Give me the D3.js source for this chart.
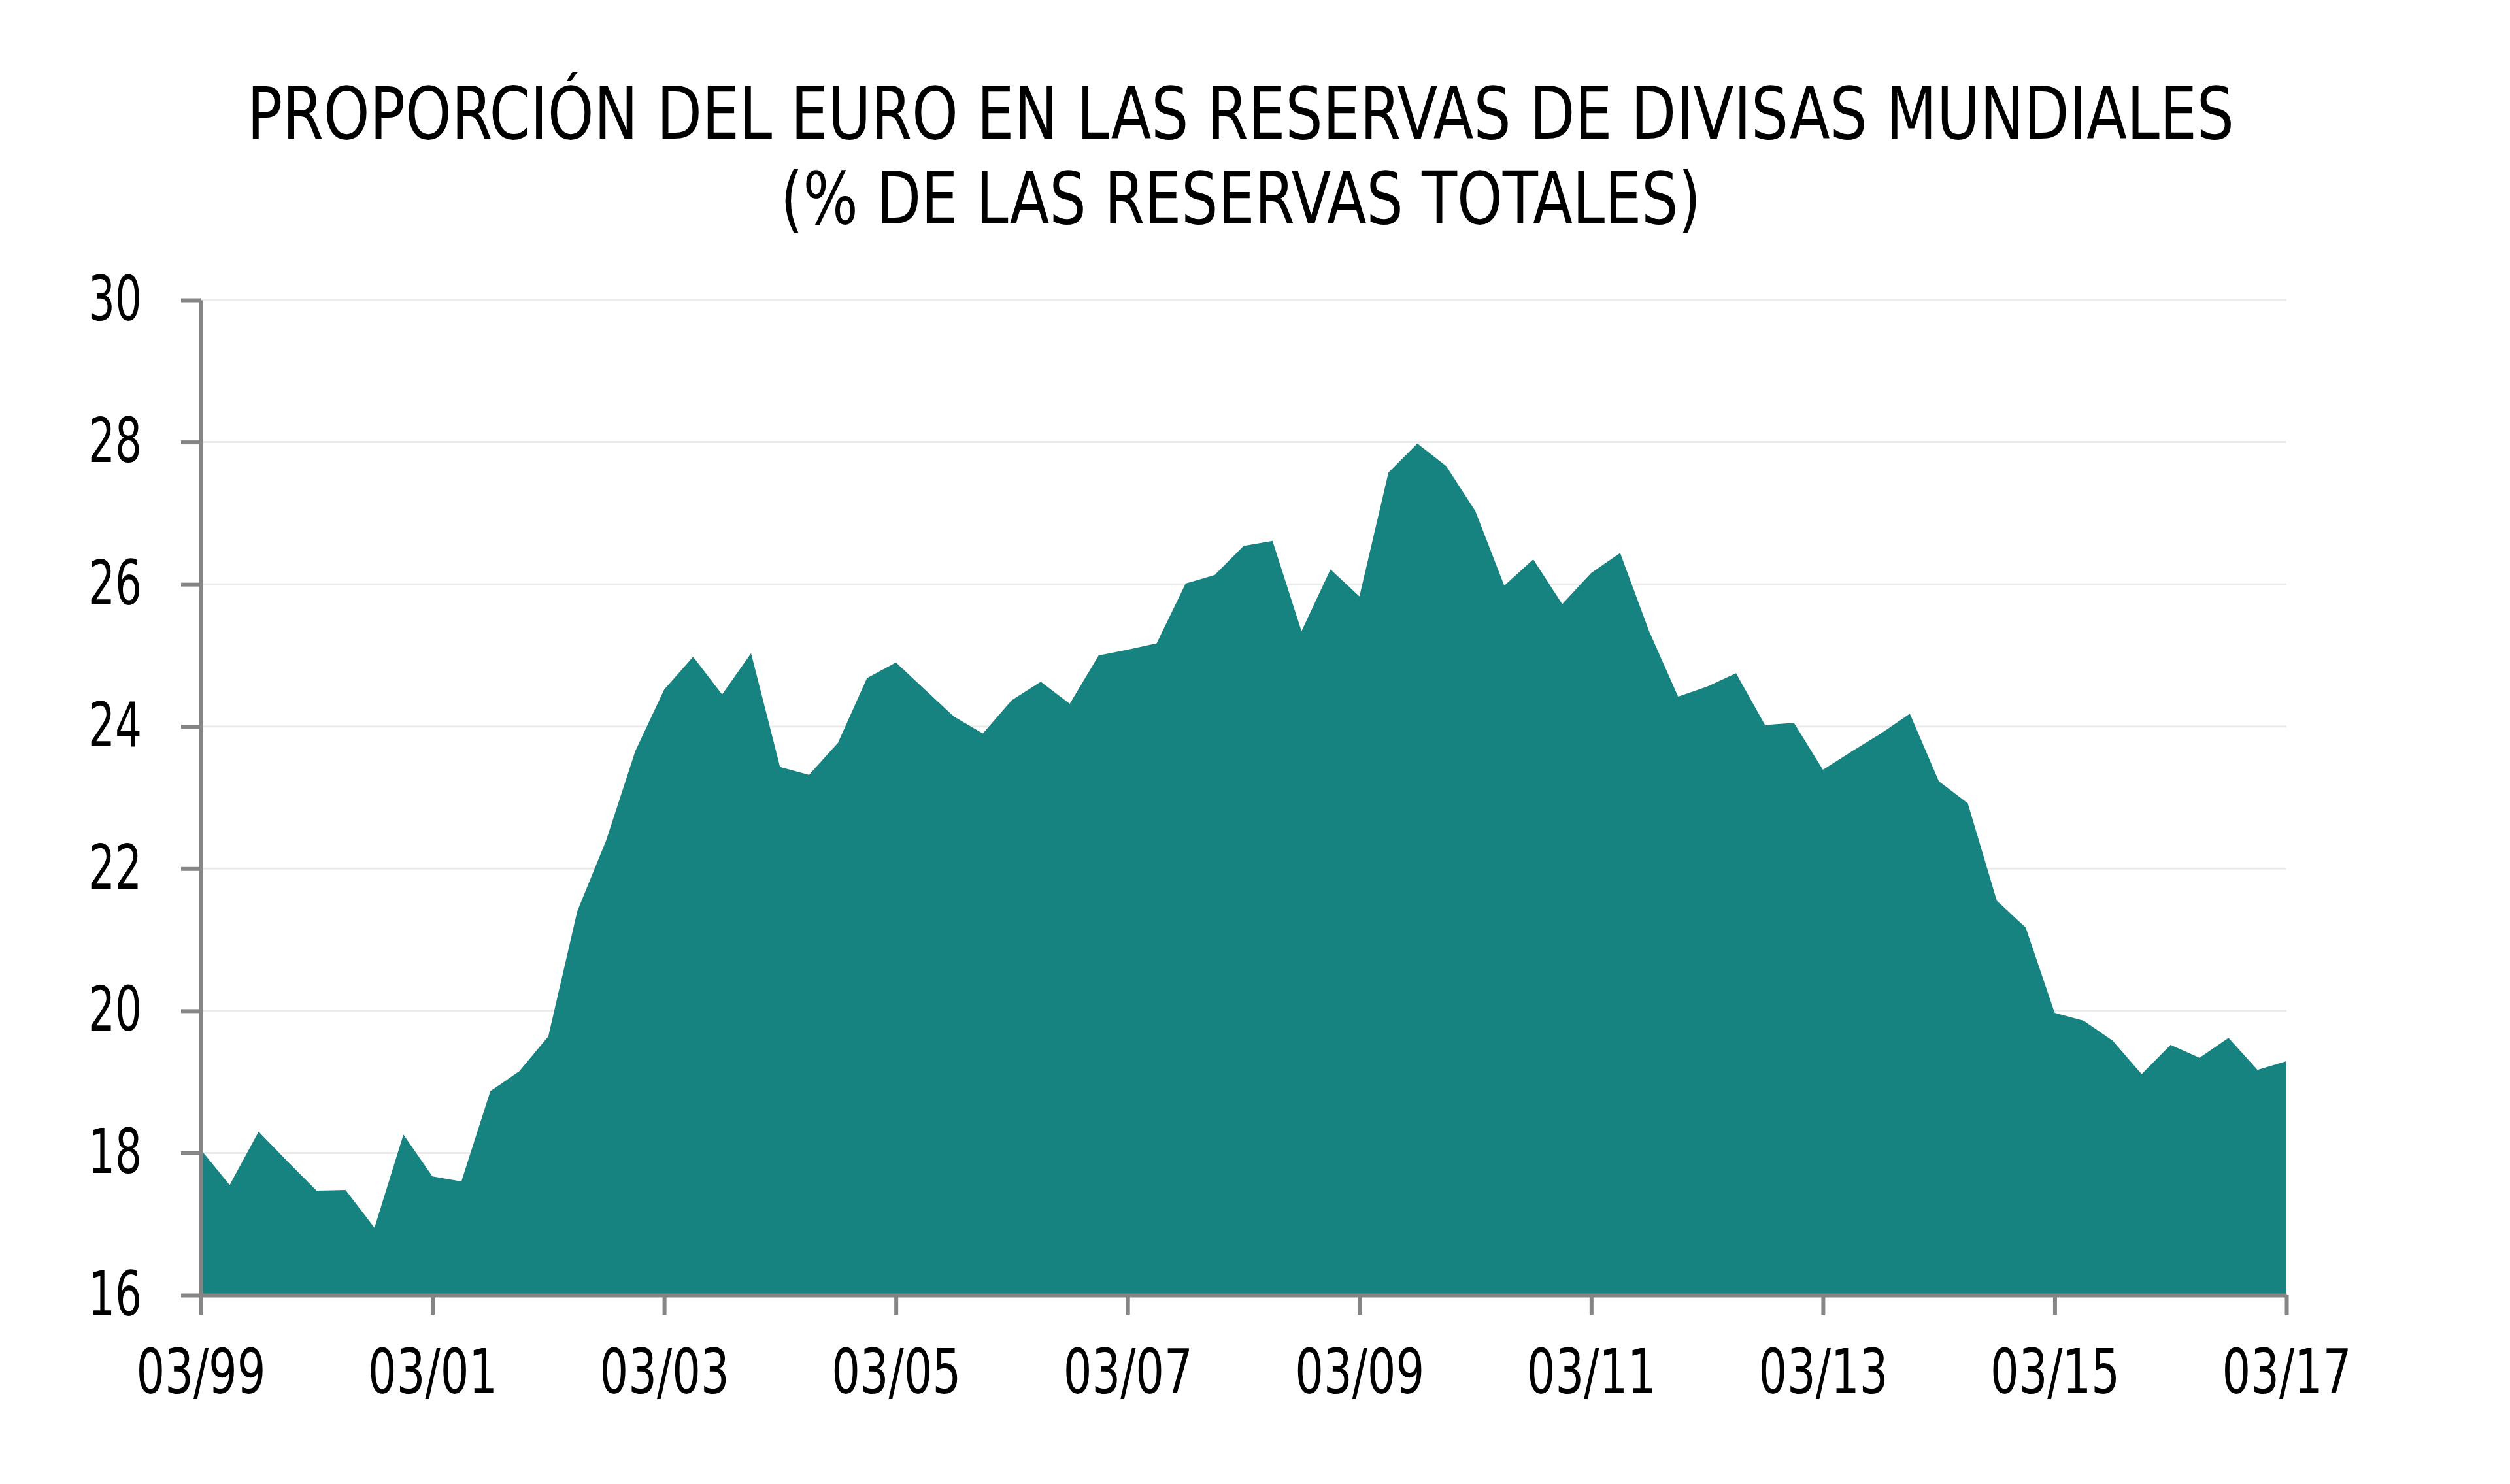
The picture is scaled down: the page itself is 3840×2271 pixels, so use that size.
<!DOCTYPE html>
<html>
<head>
<meta charset="utf-8">
<script src="https://cdn.jsdelivr.net/npm/d3@7"></script>
<style>
  html, body { margin: 0; padding: 0; background: #ffffff; }
  svg { display: block; }
  .lbl { font-family: "Liberation Sans Narrow", "DejaVu Sans Condensed", "Liberation Sans", sans-serif; font-stretch: condensed; }
</style>
</head>
<body>
<svg id="chart" width="3840" height="2271"></svg>
<script>
const titleLines = ["PROPORCIÓN DEL EURO EN LAS RESERVAS DE DIVISAS MUNDIALES", "(% DE LAS RESERVAS TOTALES)"];

const quarters = [
  "03/99","06/99","09/99","12/99","03/00","06/00","09/00","12/00",
  "03/01","06/01","09/01","12/01","03/02","06/02","09/02","12/02",
  "03/03","06/03","09/03","12/03","03/04","06/04","09/04","12/04",
  "03/05","06/05","09/05","12/05","03/06","06/06","09/06","12/06",
  "03/07","06/07","09/07","12/07","03/08","06/08","09/08","12/08",
  "03/09","06/09","09/09","12/09","03/10","06/10","09/10","12/10",
  "03/11","06/11","09/11","12/11","03/12","06/12","09/12","12/12",
  "03/13","06/13","09/13","12/13","03/14","06/14","09/14","12/14",
  "03/15","06/15","09/15","12/15","03/16","06/16","09/16","12/16",
  "03/17"
];

const euroShare = [
  18.05, 17.55, 18.30, 17.88, 17.47, 17.48, 16.95, 18.26,
  17.67, 17.60, 18.87, 19.15, 19.64, 21.40, 22.40, 23.65,
  24.52, 24.98, 24.45, 25.03, 23.43, 23.32, 23.77, 24.68,
  24.90, 24.52, 24.14, 23.90, 24.37, 24.63, 24.32, 25.00,
  25.08, 25.17, 26.01, 26.13, 26.54, 26.61, 25.34, 26.21,
  25.83, 27.57, 27.98, 27.66, 27.03, 25.98, 26.35, 25.72,
  26.16, 26.44, 25.34, 24.42, 24.56, 24.75, 24.02, 24.05,
  23.39, 23.65, 23.90, 24.18, 23.23, 22.92, 21.55, 21.17,
  19.97, 19.86, 19.58, 19.11, 19.52, 19.34, 19.62, 19.17,
  19.29
];

const xTickLabels = ["03/99","03/01","03/03","03/05","03/07","03/09","03/11","03/13","03/15","03/17"];
const yTickValues = [16, 18, 20, 22, 24, 26, 28, 30];

const plot = { left: 307, right: 3498, top: 459, bottom: 1982 };

const svg = d3.select("#chart");

const x = d3.scalePoint().domain(quarters).range([plot.left, plot.right]);
const y = d3.scaleLinear().domain([16, 30]).range([plot.bottom, plot.top]);

// Title
const title = svg.append("g").attr("class", "lbl");
title.append("text")
  .attr("x", 1898).attr("y", 212)
  .attr("text-anchor", "middle")
  .attr("font-size", 110)
  .attr("fill", "#000")
  .attr("textLength", 3040).attr("lengthAdjust", "spacingAndGlyphs")
  .text(titleLines[0]);
title.append("text")
  .attr("x", 1898).attr("y", 342)
  .attr("text-anchor", "middle")
  .attr("font-size", 110)
  .attr("fill", "#000")
  .attr("textLength", 1408).attr("lengthAdjust", "spacingAndGlyphs")
  .text(titleLines[1]);

// Grid lines
svg.append("g")
  .selectAll("line")
  .data(yTickValues.filter(v => v > 16))
  .join("line")
  .attr("x1", plot.left).attr("x2", plot.right)
  .attr("y1", d => y(d)).attr("y2", d => y(d))
  .attr("stroke", "#ebebeb")
  .attr("stroke-width", 3);

// Area
const area = d3.area()
  .x((d, i) => x(quarters[i]))
  .y0(y(16))
  .y1(d => y(d));

svg.append("path")
  .datum(euroShare)
  .attr("d", area)
  .attr("fill", "#168380");

// Axes
const axisColor = "#858585";
const yAxis = svg.append("g")
  .attr("transform", `translate(${plot.left},0)`)
  .call(d3.axisLeft(y).tickValues(yTickValues).tickSize(30).tickSizeOuter(0).tickPadding(60).tickFormat(d3.format("d")));

const xAxis = svg.append("g")
  .attr("transform", `translate(0,${plot.bottom})`)
  .call(d3.axisBottom(x).tickValues(xTickLabels).tickSize(30).tickSizeOuter(0).tickPadding(53));

[yAxis, xAxis].forEach(g => {
  g.attr("font-family", null).attr("font-size", null).attr("class", "lbl");
  g.select(".domain").attr("stroke", axisColor).attr("stroke-width", 6);
  g.selectAll(".tick line").attr("stroke", axisColor).attr("stroke-width", 6);
  g.selectAll(".tick text")
    .attr("font-size", 94)
    .attr("fill", "#000")
    .attr("lengthAdjust", "spacingAndGlyphs");
});
yAxis.selectAll(".tick text").attr("textLength", 82);
xAxis.selectAll(".tick text").attr("textLength", 198);
</script>
</body>
</html>
